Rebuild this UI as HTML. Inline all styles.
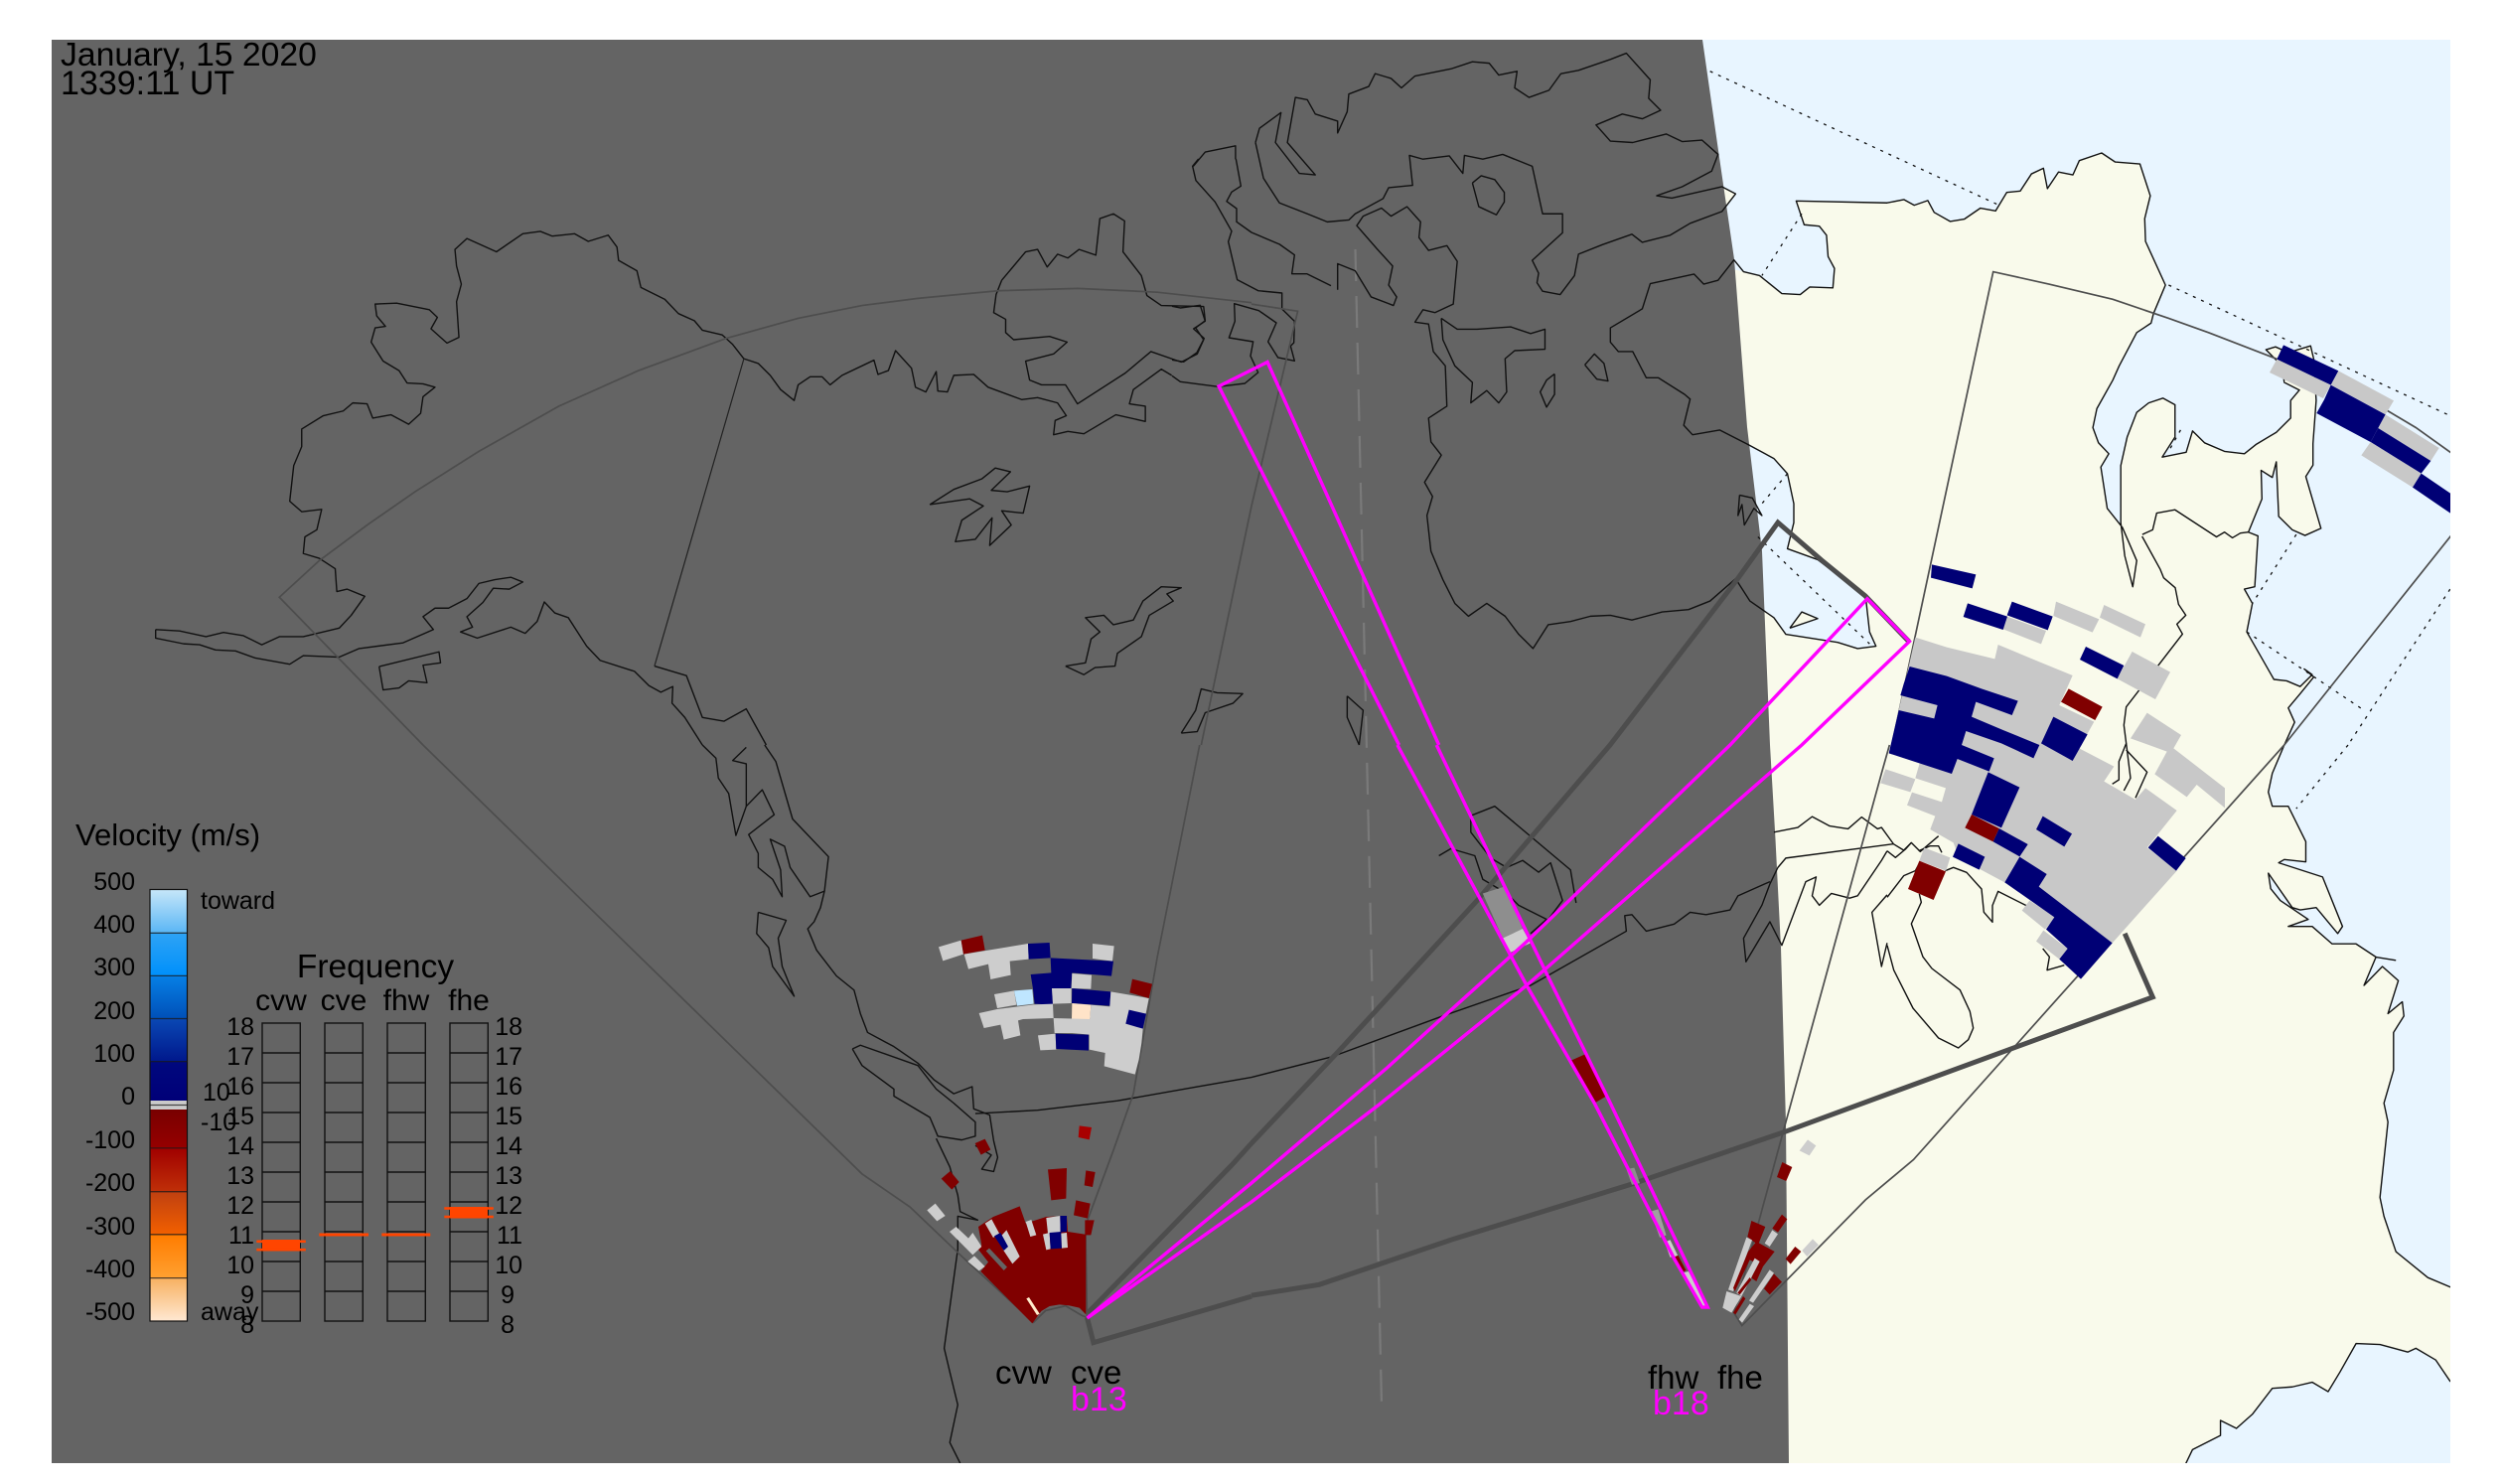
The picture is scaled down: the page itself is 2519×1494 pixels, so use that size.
<!DOCTYPE html>
<html><head><meta charset="utf-8"><style>
html,body{margin:0;padding:0;background:#fff}
svg{display:block}
text{font-family:"Liberation Sans",sans-serif;fill:#000}
.c{fill:none;stroke:#111;stroke-width:1.4;stroke-linejoin:round;vector-effect:non-scaling-stroke}
.f{fill:none;stroke:#4d4d4d;stroke-width:1.7;vector-effect:non-scaling-stroke}
.t{fill:none;stroke:#4d4d4d;stroke-width:5;stroke-linejoin:miter;vector-effect:non-scaling-stroke}
.m{fill:none;stroke:#f0f;stroke-width:3.4;stroke-linejoin:miter;vector-effect:non-scaling-stroke}
.d{fill:none;stroke:#111;stroke-width:1.3;stroke-dasharray:3 6;vector-effect:non-scaling-stroke}
.g{fill:#c8c8c8}.ga{fill:#cdcdcd}.n{fill:#000075}.r{fill:#800000}
.land{fill:#f9faeb}.sea{fill:#e8f5ff}
</style></head><body>
<svg xmlns="http://www.w3.org/2000/svg" width="2519" height="1494" viewBox="0 0 2519 1494">
<defs>
<clipPath id="mp"><rect x="52" y="40" width="2415" height="1433"/></clipPath>
<linearGradient id="b1" x1="0" y1="0" x2="0" y2="1"><stop offset="0" stop-color="#c5e6f9"/><stop offset="1" stop-color="#5ab6f5"/></linearGradient>
<linearGradient id="b2" x1="0" y1="0" x2="0" y2="1"><stop offset="0" stop-color="#2ea3f5"/><stop offset="1" stop-color="#0090fb"/></linearGradient>
<linearGradient id="b3" x1="0" y1="0" x2="0" y2="1"><stop offset="0" stop-color="#0680e6"/><stop offset="1" stop-color="#0050b8"/></linearGradient>
<linearGradient id="b4" x1="0" y1="0" x2="0" y2="1"><stop offset="0" stop-color="#0a48b4"/><stop offset="1" stop-color="#00188c"/></linearGradient>
<linearGradient id="b5" x1="0" y1="0" x2="0" y2="1"><stop offset="0" stop-color="#00087e"/><stop offset="1" stop-color="#000078"/></linearGradient>
<linearGradient id="b6" x1="0" y1="0" x2="0" y2="1"><stop offset="0" stop-color="#780000"/><stop offset="1" stop-color="#960000"/></linearGradient>
<linearGradient id="b7" x1="0" y1="0" x2="0" y2="1"><stop offset="0" stop-color="#a00000"/><stop offset="1" stop-color="#c03008"/></linearGradient>
<linearGradient id="b8" x1="0" y1="0" x2="0" y2="1"><stop offset="0" stop-color="#c04010"/><stop offset="1" stop-color="#f26000"/></linearGradient>
<linearGradient id="b9" x1="0" y1="0" x2="0" y2="1"><stop offset="0" stop-color="#ff7c00"/><stop offset="1" stop-color="#ffa030"/></linearGradient>
<linearGradient id="b10" x1="0" y1="0" x2="0" y2="1"><stop offset="0" stop-color="#f7b060"/><stop offset="1" stop-color="#ffe8d2"/></linearGradient>
</defs>
<g clip-path="url(#mp)">
<rect x="52" y="40" width="2415" height="1433" class="sea"/>
<!-- land fill -->
<g transform="matrix(.80293 0 0 .47832 1260 0)">
<polygon class="land" points="600,565 617,572 637,580 665,618 688,620 700,604 729,606 731,565 723,540 721,495 712,476 693,473 683,423 797,427 818,420 831,432 848,422 856,447 876,466 894,461 914,438 933,444 947,405 964,402 978,366 993,354 998,397 1012,362 1030,368 1038,338 1066,322 1083,341 1114,345 1127,412 1120,460 1121,508 1146,600 1131,660 1128,680 1110,700 1088,770 1080,800 1060,860 1055,900 1062,932 1075,955 1065,983 1073,1070 1092,1110 1110,1180 1105,1235 1095,1170 1090,1100 1090,980 1098,920 1110,868 1125,848 1143,838 1158,852 1158,920 1142,962 1172,952 1180,907 1195,932 1220,950 1245,955 1260,935 1285,910 1303,880 1303,843 1314,821 1295,805 1292,770 1272,736 1284,730 1300,742 1328,728 1332,756 1335,843 1331,934 1331,979 1322,1003 1341,1112 1321,1127 1305,1115 1288,1087 1285,972 1280,1005 1266,990 1267,1050 1250,1120 1262,1128 1258,1235 1245,1240 1255,1270 1248,1330 1265,1380 1282,1430 1298,1433 1315,1445 1330,1420 1320,1408 1332,1425 1315,1460 1300,1490 1308,1520 1295,1572 600,1572"/>
<polygon class="land" points="585,390 590,393 607,408 590,445 585,450"/>
<polygon class="sea" points="600,925 622,935 655,965 672,997 680,1060 680,1100 672,1155 710,1178 770,1255 775,1330 783,1360 760,1365 735,1352 670,1335 655,1300 625,1265 607,1218 600,1218"/>
<polygon class="land" points="675,1322 690,1288 710,1302"/>
</g>
<g transform="matrix(.80293 0 0 .47449 1260 750)">
<polygon class="land" points="1295,-5 1280,60 1275,100 1280,130 1300,130 1322,205 1322,248 1295,243 1288,250 1343,280 1368,385 1362,400 1335,345 1315,350 1305,345 1275,272 1278,305 1290,330 1325,370 1300,385 1330,385 1355,422 1385,422 1410,450 1395,510 1418,470 1438,500 1425,570 1443,545 1445,575 1432,610 1432,690 1420,760 1425,800 1415,960 1420,1000 1435,1075 1475,1130 1510,1155 1510,1355 1503,1350 1485,1305 1460,1280 1450,1288 1415,1272 1385,1270 1365,1330 1350,1372 1330,1352 1305,1362 1280,1365 1255,1420 1235,1450 1215,1433 1215,1465 1180,1495 1170,1530 600,1530 600,-5"/>
</g>
<!-- night -->
<polygon fill="#646464" points="52,40 1714,40 1730.5,155 1746,261 1759,430 1774,555 1782,750 1787.5,845 1793,954 1798,1130 1801,1473 52,1473"/>
<!-- dotted -->
<g transform="matrix(.80293 0 0 .47832 1260 0)">
<path class="d" d="M575,150L935,430M690,450L640,580M1150,600L1503,875M1165,905L1150,950M672,997L640,1060M635,1130L775,1355M1310,1125L1255,1270M1248,1330L1395,1495M1503,1240L1375,1568"/>
</g>
<g transform="matrix(.80293 0 0 .47449 1260 750)"><path class="d" d="M1375,0L1310,135"/></g>
<!-- dashed meridian -->
<path d="M1364.5,251L1391,1414" fill="none" stroke="#7a7a7a" stroke-width="2.2" stroke-dasharray="32 15"/>
<!-- coast z1 -->
<g transform="matrix(.80357 0 0 .47832 0 0)">
<polyline class="c" points="195,1325 225,1328 258,1340 280,1331 305,1338 328,1357 350,1340 380,1340 425,1322 440,1295 457,1255 435,1240 422,1245 420,1197 400,1175 380,1165 382,1130 397,1115 403,1072 378,1077 363,1055 368,980 378,940 378,903 405,875 430,865 442,848 460,850 467,880 490,873 512,893 527,870 530,835 545,815 530,808 510,806 500,780 480,760 465,720 470,690 483,687 472,665 470,640 497,638 538,652 548,668 540,692 560,722 575,710 572,635 578,598 572,560 570,525 585,502 622,530 655,492 677,487 692,497 720,492 737,508 762,495 773,520 775,548 798,570 803,605 833,630 850,660 870,675 880,695 905,705 918,725 932,755 950,765 965,790 978,820 995,843 1000,810 1015,793 1030,793 1040,810 1055,790 1095,758 1100,788 1113,780 1122,738 1142,775 1147,815 1160,825 1173,782 1175,823 1187,825 1195,790 1220,788 1238,815 1280,841 1300,837 1325,848 1336,875 1322,885 1320,915 1338,908 1358,913 1398,873 1435,887 1435,855 1415,850 1420,820 1455,777 1468,790"/>
<polyline class="c" points="195,1325 195,1343 230,1355 250,1357 270,1368 295,1370 320,1385 363,1398 380,1380 425,1383 450,1365 505,1353 543,1325 530,1298 545,1280 562,1280 585,1260 600,1228 620,1220 640,1215 655,1225 638,1240 618,1238 605,1268 585,1298 592,1320 577,1330 598,1343 640,1320 658,1333 673,1308 682,1267 695,1290 712,1300 735,1360 752,1390 795,1413 813,1443 828,1457 843,1445 842,1480 858,1510 880,1568"/>
<polyline class="c" points="820,1402 860,1422 880,1510 907,1518 935,1492 960,1568"/>
<polyline class="c" points="1165,1062 1195,1030 1230,1008 1247,985 1266,993 1242,1032 1262,1035 1290,1023 1282,1080 1255,1075 1267,1105 1240,1148 1243,1090 1222,1135 1197,1140 1205,1095 1232,1065 1215,1050 1165,1062"/>
<polyline class="c" points="1335,1402 1360,1395 1367,1345 1378,1330 1360,1300 1383,1295 1395,1315 1420,1305 1432,1265 1455,1235 1480,1237 1462,1250 1470,1265 1440,1295 1430,1340 1400,1375 1397,1402 1372,1405 1358,1420 1335,1402"/>
<polyline class="c" points="1480,1543 1498,1495 1505,1450 1525,1458 1557,1460 1545,1480 1510,1500 1500,1540 1480,1543"/>
<polyline class="c" points="475,1403 550,1372 552,1395 530,1400 535,1437 512,1433 500,1448 480,1452 475,1403"/>
<polyline class="c" points="1255,590 1285,530 1300,525 1312,562 1325,535 1338,543 1352,525 1373,537 1378,460 1395,450 1409,465 1407,530 1430,580 1437,622 1455,643 1508,645 1510,675 1498,690 1508,715 1500,745 1480,762 1442,740 1410,785 1350,850 1335,810 1305,810 1290,800 1285,760 1320,745 1337,720 1315,708 1270,715 1260,700 1260,672 1245,658 1248,620 1255,590"/>
<polyline class="c" points="1495,350 1510,320 1548,307 1548,335"/>
</g>
<!-- coast z11 -->
<g transform="translate(1180 160) scale(.33333)">
<polyline class="c" points="0,655 25,673 140,688 220,678 260,645 237,595 245,552 172,540 190,490 188,437 262,458 315,495 290,552 320,600 370,610 358,565 368,555 370,490 332,453 332,405 260,398 197,365 170,250 180,218 130,130 72,65 62,22 80,0"/>
<polyline class="c" points="0,445 25,450 85,442 100,490 65,513 97,542 75,585 35,613 0,607"/>
<polyline class="c" points="193,0 208,82 180,100 165,128 195,150 195,190 240,222 325,258 370,290 362,347 407,347 480,383"/>
</g>
<!-- coast z2 -->
<g transform="matrix(.80293 0 0 .47832 1260 0)">
<polyline class="c" points="108,610 108,555 130,570 150,625 178,643 182,625 172,600 177,560 158,525 132,475 140,455 163,438 175,455 195,435 212,467 210,500 222,527 245,517 258,550 253,640 230,658 215,652 205,678 222,682 228,740 243,770 245,855 222,880 225,930 238,958 217,1015 227,1045 220,1085 225,1160 240,1220 255,1270 272,1297 295,1270 318,1297 335,1335 353,1365 372,1315 400,1308 425,1297 450,1295 477,1305 515,1288 548,1283 575,1265 607,1218 625,1265 655,1300 670,1335 735,1352 760,1365 783,1360 775,1330 770,1255 710,1178 672,1155 680,1100 680,1060 672,997 655,965 622,935 587,905 553,915 542,895 550,840 543,830 510,795 495,795 478,740 460,740 450,720 450,690 490,650 500,597 555,577 567,598 585,590 605,547 617,572 637,580 665,618 688,620 700,604 729,606 731,565 723,540 721,495 712,476 693,473 683,423 797,427 818,420 831,432 848,422 856,447 876,466 894,461 914,438 933,444 947,405 964,402 978,366 993,354 998,397 1012,362 1030,368 1038,338 1066,322 1083,341 1114,345 1127,412 1120,460 1121,508 1146,600 1131,660 1128,680 1110,700 1088,770 1080,800 1060,860 1055,900 1062,932 1075,955 1065,983 1073,1070 1092,1110 1110,1180 1105,1235 1095,1170 1090,1100 1090,980 1098,920 1110,868 1125,848 1143,838 1158,852 1158,920 1142,962 1172,952 1180,907 1195,932 1220,950 1245,955 1260,935 1285,910 1303,880 1303,843 1314,821 1295,805 1292,770 1272,736 1284,730 1300,742 1328,728 1332,756 1335,843 1331,934 1331,979 1322,1003 1341,1112 1321,1127 1305,1115 1288,1087 1285,972 1280,1005 1266,990 1267,1050 1250,1120 1262,1128 1258,1235 1245,1240 1255,1270 1248,1330 1265,1380 1282,1430 1298,1433 1315,1445 1330,1420 1320,1408 1332,1425 1315,1460 1300,1490 1308,1520 1295,1568"/>
<polyline class="c" points="1117,1125 1130,1115 1135,1080 1158,1073 1210,1130 1220,1120 1230,1132 1240,1122 1250,1120"/>
<polyline class="c" points="5,300 10,270 37,237 30,300 60,365 80,368 45,300 55,205 70,210 80,240 108,255 108,280 120,235 122,198 147,182 155,155 175,165 188,185 205,160 250,145 277,130 298,133 310,158 333,150 330,185 348,205 373,190 388,155 410,148 450,125 470,112 500,168 498,207 513,232 490,250 465,240 432,263 450,297 478,300 520,282 540,298 565,295 585,325 577,360 540,393 508,412 527,417 590,393 607,408 590,445 550,470 525,495 490,510 477,493 440,515 410,535 405,580 387,620 365,613 358,595 360,575 352,548 390,490 390,450 365,450 352,350 315,325 290,335 267,327 265,365 248,328 215,335 198,327 202,390 172,395 165,418 130,450 122,463 95,467 70,450 35,427 15,375 5,300"/>
<polyline class="c" points="277,385 288,370 305,378 317,405 317,425 307,452 285,435 277,385"/>
<polyline class="c" points="238,670 258,693 283,693 325,688 350,702 368,693 368,735 330,738 318,755 320,825 310,848 295,822 275,848 277,805 255,770 240,715 238,670"/>
<polyline class="c" points="418,768 430,745 442,765 447,802 433,798 418,768"/>
<polyline class="c" points="380,787 380,830 370,857 362,825 370,800 380,787"/>
<polyline class="c" points="612,1042 628,1048 640,1085 630,1070 618,1105 615,1062 610,1085 612,1042"/>
<polyline class="c" points="675,1322 690,1288 710,1302 675,1322"/>
<polyline class="c" points="120,1465 140,1495 135,1568"/>
<polyline class="c" points="120,1465 120,1510 135,1568"/>
</g>
<!-- coast z3 -->
<g transform="matrix(.80357 0 0 .47449 0 750)">
<polyline class="c" points="880,0 897,28 900,70 913,103 922,192 935,130 955,95 970,148 938,190 950,230 950,260 968,285 980,322 978,265 965,200 983,215 990,260 1015,322 1033,310 1028,345 1020,375 1012,390 1023,435 1048,490 1070,520 1078,570 1087,610 1120,640 1150,675 1170,710 1195,740 1218,725 1220,772 1240,785 1245,840 1250,875 1245,905 1230,900 1242,870 1222,850"/>
<polyline class="c" points="935,5 918,33 935,40 935,130"/>
<polyline class="c" points="958,0 972,35 993,157 1038,237 1033,310"/>
<polyline class="c" points="950,355 985,372 975,410 980,470 995,533 968,470 963,430 948,400 950,355"/>
<polyline class="c" points="1068,645 1078,637 1150,680 1173,730 1195,760 1222,800 1222,830 1205,838 1175,830 1165,790 1120,745 1120,730 1080,680 1068,645"/>
<polyline class="c" points="1173,835 1190,895 1200,955 1203,990 1225,1008 1200,1000 1200,1070 1183,1280 1190,1330 1200,1400 1190,1480 1203,1524"/>
<polyline class="c" points="1222,782 1300,775 1400,755 1500,725 1568,705"/>
</g>
<!-- coast z4 -->
<g transform="matrix(.80293 0 0 .47449 1260 750)">
<polyline class="c" points="0,705 100,662 240,575 350,510 470,395 468,362 477,360 495,395 530,380 550,355 570,360 600,350 610,320 650,290"/>
<polyline class="c" points="275,150 305,130 400,265 407,335"/>
<polyline class="c" points="275,150 275,185 300,240 320,260 340,245 360,270 375,250 390,330 370,375"/>
<polyline class="c" points="235,235 250,220 280,235 290,285 320,315 335,340 370,370 350,400"/>
<polyline class="c" points="655,185 685,175 703,152 725,172 748,178 765,153 785,178 790,175 805,210"/>
<polyline class="c" points="797,225 790,245 760,320 750,325 727,315 712,340 703,320 708,280 695,290 665,425 650,375 620,460 617,410 640,340 650,295 660,260 670,240 805,210"/>
<polyline class="c" points="797,318 778,355 790,470 797,420"/>
<polyline class="c" points="1295,0 1280,60 1275,100 1280,130 1300,130 1322,205 1322,248 1295,243 1288,250 1343,280 1368,385 1362,400 1335,345 1315,350 1305,345 1275,272 1278,305 1290,330 1325,370 1300,385 1330,385 1355,422 1385,422 1410,450 1395,510 1418,470 1438,500 1425,570 1443,545 1445,575 1432,610 1432,690 1420,760 1425,800 1415,960 1420,1000 1435,1075 1475,1130 1510,1155"/>
<polyline class="c" points="1410,450 1435,457"/>
<polyline class="c" points="1510,1355 1503,1350 1485,1305 1460,1280 1450,1288 1415,1272 1385,1270 1365,1330 1350,1372 1330,1352 1305,1362 1280,1365 1255,1420 1235,1450 1215,1433 1215,1465 1180,1495 1170,1530"/>
</g>
<!-- coast z12 -->
<g transform="translate(1900 780) scale(.33333)">
<polyline class="c" points="0,370 50,305 85,290 100,262"/>
<polyline class="c" points="97,360 103,385 73,450 108,550 135,585 220,650 250,715 260,765 245,800 215,825 155,795 78,705 20,590 0,515"/>
<polyline class="c" points="175,290 200,280 240,295 285,345 292,415 318,445 318,395 335,352 420,395"/>
<polyline class="c" points="0,230 25,250 55,225 73,205 100,232 155,185"/>
<polyline class="c" points="19,209 50,228 73,205"/>
<polyline class="c" points="95,230 130,215 155,215 165,235"/>
<polyline class="c" points="470,525 490,550 483,590 535,575"/>
</g>
<!-- coast z8 -->
<g transform="translate(1860 540) scale(.33333)">
<polyline class="c" points="890,0 945,100 955,125 990,155 1000,205 1022,238 995,265 1012,295 842,515 835,570 842,625 820,680 820,735 800,748"/>
<polyline class="c" points="842,625 855,730 835,768"/>
<polyline class="c" points="842,645 905,712 870,790"/>
</g>
<!-- FOV thin 1 -->
<g transform="matrix(.80357 0 0 .47832 0 0)">
<polyline class="f" points="530,1568 350,1257 400,1180 460,1105 520,1035 600,950 700,855 800,780 910,712 1000,670 1080,643 1150,628 1250,612 1350,607 1450,615 1568,637"/>
<polyline class="f" points="932,755 820,1402" style="stroke:#222;stroke-width:1.2"/>
<polyline class="f" points="1568,1065 1505,1568"/>
</g>
<g transform="matrix(.80293 0 0 .47832 1260 0)"><polyline class="f" points="0,640 58,655 0,1065"/></g>
<g transform="matrix(.80357 0 0 .47449 0 750)">
<polyline class="f" points="530,0 1080,910 1140,980 1205,1085 1295,1225 1310,1200 1335,1190 1355,1210 1362,1215 1360,1020 1395,860 1420,740 1450,450 1503,0"/>
</g>
<!-- FOV thin 2 -->
<g transform="matrix(.80293 0 0 .47832 1260 0)">
<polyline class="f" points="803,1568 930,572 1000,598 1080,630 1150,670 1200,700 1285,755 1340,795 1400,840 1460,900 1510,960"/>
<polyline class="f" points="1510,1115 1295,1568"/>
</g>
<g transform="matrix(.80293 0 0 .47449 1260 750)">
<polyline class="f" points="800,0 790,60 670,800 605,1205 615,1232 770,965 830,880 1295,0"/>
</g>
<!-- thick FOV -->
<polyline class="t" points="1095,1322 1240,1173 1260,1151 1348,1058 1485,909 1621,750 1750,582 1790,526 1834,564 1878,600 1922,646"/>
<g transform="matrix(.80357 0 0 .47449 0 750)">
<polyline class="t" points="1362,1215 1370,1268 1568,1170"/>
</g>
<g transform="matrix(.80293 0 0 .47449 1260 750)">
<polyline class="t" points="1095,400 1130,535 960,640 670,820 480,930 250,1050 85,1145 0,1168"/>
</g>
<!-- data in magenta b18 -->
<g transform="matrix(.80293 0 0 .47449 1260 750)">
<polygon fill="#8e8e8e" points="290,315 318,300 340,390 315,410"/>
<polygon class="ga" points="315,410 340,390 350,420 325,440"/>
<polygon class="r" points="400,670 420,655 445,745 430,760"/>
<polygon fill="#8e8e8e" points="470,900 480,897 487,930 477,933"/>
<polygon fill="#a0a0a0" points="500,990 510,985 520,1040 512,1045"/>
<polygon class="ga" points="518,1055 525,1050 535,1085 525,1087"/>
<polygon class="r" points="528,1087 535,1083 545,1115 538,1120"/>
<polygon class="ga" points="540,1120 548,1117 570,1190 565,1193"/>
</g>
<!-- magenta b13 / b18 -->
<polygon class="m" points="1094.5,1327 1260,1191 1396.5,1075 1537,948 1741.8,750 1880,602.7 1922.4,645.7 1814,750 1537,992 1388.5,1112 1260,1210"/>
<g transform="matrix(.80293 0 0 .47449 1260 750)">
<polyline class="m" points="183,0 345,510 430,760 530,1090 565,1193 572,1193 512,980 450,760 370,485 232,0"/>
</g>
<g transform="matrix(.80293 0 0 .47832 1260 0)">
<polyline class="m" points="235,1568 20,762 -41,813 185,1568"/>
</g>
<!-- cvw/cve fan -->
<g transform="translate(920 1100) scale(.33333)">
<polygon class="r" points="358,697 202,540 225,512 192,470 205,460 195,405 240,375 320,343 338,395 400,375 460,372 517,385 545,385 535,430 520,430 520,670 500,650 470,643 440,640 410,645 385,660"/>
<polygon fill="#646464" points="228,470 282,527 272,537 218,478"/>
<polygon fill="#646464" points="462,372 517,383 517,428 465,420"/>
<polygon class="ga" points="65,335 95,372 70,388 40,355"/>
<polygon class="ga" points="128,405 165,440 178,423 205,465 178,490 108,420"/>
<polygon class="ga" points="183,493 215,525 197,538 163,510"/>
<polygon class="ga" points="215,395 235,382 258,425 240,438"/>
<polygon class="ga" points="280,415 320,495 298,517 270,475 262,435"/>
<polygon class="n" points="243,433 262,423 285,465 272,477"/>
<polygon class="ga" points="338,390 355,384 370,430 352,435"/>
<polygon class="ga" points="400,378 442,372 443,422 405,425"/>
<polygon class="n" points="442,372 462,372 462,420 443,422"/>
<polygon class="ga" points="390,428 410,423 413,472 400,475"/>
<polygon class="n" points="410,423 445,420 447,470 413,472"/>
<polygon class="ga" points="445,425 462,423 465,468 447,470"/>
<polygon fill="#ffeccc" points="340,622 348,618 380,668 372,672"/>
<polygon fill="#a80000" points="500,100 537,105 530,142 497,135"/>
<polygon class="r" points="185,153 215,140 232,172 203,188"/>
<polygon class="r" points="83,260 110,237 137,270 115,293"/>
<polygon class="r" points="405,232 462,228 460,320 415,325"/>
<polygon class="r" points="520,235 548,240 540,285 515,280"/>
<polygon class="r" points="490,325 533,335 525,380 483,370"/>
</g>
<!-- cve far cluster -->
<g transform="translate(920 920) scale(.33333)">
<polygon class="ga" points="75,100 143,80 150,122 88,142"/>
<polygon class="r" points="143,80 207,65 215,110 150,122"/>
<polygon class="ga" points="152,122 345,90 347,137 290,143 293,185 232,198 225,152 165,167"/>
<polygon class="n" points="345,90 410,87 413,133 347,137"/>
<polygon class="ga" points="540,90 605,97 600,143 540,135"/>
<polygon class="n" points="413,133 603,143 597,188 478,178 475,225 417,225 420,275 365,272 360,227 353,183 415,178"/>
<polygon class="ga" points="478,180 537,185 535,227 476,225"/>
<polygon class="ga" points="243,243 303,232 310,275 252,285"/>
<polygon fill="#bfe6ff" points="303,232 358,228 362,272 312,278"/>
<polygon class="ga" points="417,225 476,225 476,270 420,272"/>
<polygon class="n" points="478,225 595,235 592,278 477,270"/>
<polygon class="ga" points="197,300 252,288 362,274 420,272 422,315 330,318 315,322 322,367 272,380 262,335 212,345"/>
<polygon fill="#ffe3c8" points="478,270 535,275 532,318 477,318"/>
<polygon class="ga" points="595,235 710,255 692,345 688,390 680,440 668,485 575,460 578,420 530,410 530,365 478,360 425,360 422,315 532,318 535,275 592,280"/>
<polygon class="n" points="650,290 702,302 692,347 640,332"/>
<polygon class="r" points="660,197 720,212 710,255 652,238"/>
<polygon class="ga" points="375,367 428,362 430,410 382,412"/>
<polygon class="n" points="428,362 528,365 528,413 430,408"/>
</g>
<!-- fhe close cluster -->
<g transform="translate(1700 1120) scale(.33333)">
<polygon class="ga" points="360,82 385,100 365,130 335,115"/>
<polygon class="r" points="283,150 313,165 295,207 267,195"/>
<polygon class="r" points="190,327 232,345 210,400 178,375"/>
<polygon class="r" points="282,308 298,322 270,362 253,350"/>
<polygon class="ga" points="253,355 270,367 245,405 230,395"/>
<polygon class="ga" points="175,377 192,385 135,540 120,535"/>
<polygon class="r" points="205,390 260,420 225,465 205,510 190,500 205,455 185,445 140,540 135,530 180,420"/>
<polygon class="ga" points="200,440 215,450 160,555 145,545"/>
<polygon class="ga" points="115,540 160,555 130,605 103,590"/>
<polygon class="r" points="185,498 190,505 155,550 148,545"/>
<polygon class="r" points="165,555 172,562 142,610 135,605"/>
<polygon class="ga" points="245,475 258,485 195,575 183,568"/>
<polygon class="ga" points="185,578 198,585 162,635 152,625"/>
<polygon class="r" points="258,487 282,512 245,550 228,532"/>
<polygon class="r" points="322,405 340,420 308,458 293,442"/>
<polygon class="ga" points="375,382 393,400 358,435 343,417"/>
</g>
<!-- main far cluster -->
<g transform="translate(1860 540) scale(.33333)">
<polygon class="g" points="205,305 300,335 445,370 455,327 570,375 680,420 640,510 745,560 700,640 805,695 775,740 870,795 900,760 995,828 905,940 995,1010 800,1228 475,1045 400,1005 335,965 320,925 250,885 265,845 180,812 195,773 285,802 297,760 205,730 218,685 125,655"/>
<polygon class="g" points="630,197 760,250 740,290 622,240"/>
<polygon class="g" points="775,207 900,265 885,305 762,245"/>
<polygon class="g" points="470,280 482,242 600,285 585,325"/>
<polygon class="g" points="860,348 975,410 930,492 815,430"/>
<polygon class="g" points="905,533 1008,600 985,640 1140,760 1140,820 1055,750 1025,787 928,718 965,650 855,610"/>
<polygon class="g" points="115,703 205,733 190,772 100,745"/>
<polygon class="g" points="550,1100 628,1150 597,1187 527,1130"/>
<polygon class="g" points="592,1190 665,1245 640,1277 570,1223"/>
<polygon class="g" points="232,940 310,970 298,1010 217,980"/>
<polygon class="n" points="255,85 388,115 377,157 252,125"/>
<polygon class="n" points="363,202 483,242 470,282 350,243"/>
<polygon class="n" points="497,197 620,242 605,283 482,238"/>
<polygon class="n" points="720,333 835,390 815,430 702,372"/>
<polygon class="n" points="188,393 300,422 405,460 515,497 497,540 388,500 375,545 470,585 580,630 562,670 465,625 358,588 345,630 443,670 428,710 332,672 315,717 125,655 155,525 262,550 272,510 160,480 170,445"/>
<polygon class="n" points="622,545 725,598 680,678 585,625"/>
<polygon class="n" points="425,712 520,758 465,880 375,840"/>
<polygon class="n" points="458,882 545,930 520,967 440,922"/>
<polygon class="n" points="590,845 678,898 655,937 570,885"/>
<polygon class="n" points="335,928 415,968 398,1007 318,968"/>
<polygon class="n" points="520,968 602,1020 578,1058 800,1228 705,1337 640,1277 665,1245 600,1187 625,1150 475,1045"/>
<polygon class="n" points="938,905 1022,972 993,1010 908,940"/>
<polygon class="r" points="668,460 770,515 748,555 645,500"/>
<polygon class="r" points="375,840 458,882 440,922 355,880"/>
<polygon class="r" points="217,980 297,1012 260,1098 183,1065"/>
</g>
<!-- top right cells -->
<g transform="translate(2260 320) scale(.33333)">
<polygon class="n" points="117,82 283,160 260,203 97,125"/>
<polygon class="g" points="97,125 260,203 237,243 75,165"/>
<polygon class="g" points="283,160 450,250 425,292 260,203"/>
<polygon class="n" points="260,203 425,292 403,333 380,375 217,288 240,247"/>
<polygon class="g" points="425,292 587,393 562,432 403,333"/>
<polygon class="n" points="403,333 562,432 533,470 380,375"/>
<polygon class="g" points="380,375 533,470 507,512 352,415"/>
<polygon class="n" points="533,470 640,543 640,603 507,512"/>
</g>
</g>
<!-- title -->
<text x="61" y="66" font-size="33.7">January, 15 2020</text>
<text x="61" y="95" font-size="34">1339:11 UT</text>
<!-- colorbar -->
<text x="76" y="851" font-size="31">Velocity (m/s)</text>
<rect x="151" y="896" width="37.5" height="43.3" fill="url(#b1)"/>
<rect x="151" y="939" width="37.5" height="43.3" fill="url(#b2)"/>
<rect x="151" y="982" width="37.5" height="43.5" fill="url(#b3)"/>
<rect x="151" y="1025.5" width="37.5" height="43" fill="url(#b4)"/>
<rect x="151" y="1068.5" width="37.5" height="39.5" fill="url(#b5)"/>
<rect x="151" y="1108" width="37.5" height="9" fill="#cacaca"/>
<rect x="151" y="1117" width="37.5" height="39" fill="url(#b6)"/>
<rect x="151" y="1156" width="37.5" height="44" fill="url(#b7)"/>
<rect x="151" y="1200" width="37.5" height="43" fill="url(#b8)"/>
<rect x="151" y="1243" width="37.5" height="43.5" fill="url(#b9)"/>
<rect x="151" y="1286.5" width="37.5" height="43.5" fill="url(#b10)"/>
<rect x="151" y="895.5" width="37.5" height="434.5" fill="none" stroke="#111" stroke-width="1.2"/>
<path d="M151,939.3H188.5M151,982.4H188.5M151,1025.5H188.5M151,1068.6H188.5M151,1112.5H188.5M151,1155.9H188.5M151,1199.7H188.5M151,1242.8H188.5M151,1286.6H188.5" stroke="#1a1a1a" stroke-opacity=".75" stroke-width="1.3" fill="none"/>
<g font-size="25" text-anchor="end">
<text x="136" y="896">500</text><text x="136" y="939">400</text><text x="136" y="982">300</text><text x="136" y="1026">200</text><text x="136" y="1069">100</text><text x="136" y="1112">0</text><text x="136" y="1156">-100</text><text x="136" y="1199">-200</text><text x="136" y="1243">-300</text><text x="136" y="1286">-400</text><text x="136" y="1329">-500</text>
</g>
<g font-size="25">
<text x="202" y="915">toward</text><text x="202" y="1329">away</text><text x="204" y="1108">10</text><text x="202" y="1138">-10</text>
</g>
<text x="378" y="984" font-size="33.5" text-anchor="middle">Frequency</text>
<g font-size="30" text-anchor="middle">
<text x="283" y="1017">cvw</text><text x="346" y="1017">cve</text><text x="409" y="1017">fhw</text><text x="472" y="1017">fhe</text>
</g>
<g fill="none" stroke="#111" stroke-width="1.4">
<rect x="264" y="1030" width="38.3" height="300"/><rect x="327" y="1030" width="38.3" height="300"/><rect x="390" y="1030" width="38.3" height="300"/><rect x="453" y="1030" width="38.3" height="300"/>
<path d="M264,1060H302M264,1090H302M264,1120H302M264,1150H302M264,1180H302M264,1210H302M264,1240H302M264,1270H302M264,1300H302"/>
<path d="M327,1060H365M327,1090H365M327,1120H365M327,1150H365M327,1180H365M327,1210H365M327,1240H365M327,1270H365M327,1300H365"/>
<path d="M390,1060H428M390,1090H428M390,1120H428M390,1150H428M390,1180H428M390,1210H428M390,1240H428M390,1270H428M390,1300H428"/>
<path d="M453,1060H491M453,1090H491M453,1120H491M453,1150H491M453,1180H491M453,1210H491M453,1240H491M453,1270H491M453,1300H491"/>
</g>
<g fill="#ff4500">
<rect x="264" y="1248" width="38" height="11.5"/><rect x="258.3" y="1248.5" width="49.5" height="2.6"/><rect x="258.3" y="1256.8" width="49.5" height="2.6"/>
<rect x="321.3" y="1241.5" width="49.7" height="3"/><rect x="384.3" y="1241.5" width="49" height="3"/>
<rect x="453" y="1215" width="38" height="11.5"/><rect x="447.3" y="1215.2" width="49.5" height="2.6"/><rect x="447.3" y="1223.7" width="49.5" height="2.6"/>
</g>
<g font-size="25" text-anchor="end">
<text x="256" y="1042">18</text><text x="256" y="1072">17</text><text x="256" y="1102">16</text><text x="256" y="1132">15</text><text x="256" y="1162">14</text><text x="256" y="1192">13</text><text x="256" y="1222">12</text><text x="256" y="1252">11</text><text x="256" y="1282">10</text><text x="256" y="1312">9</text><text x="256" y="1342">8</text>
<text x="526" y="1042">18</text><text x="526" y="1072">17</text><text x="526" y="1102">16</text><text x="526" y="1132">15</text><text x="526" y="1162">14</text><text x="526" y="1192">13</text><text x="526" y="1222">12</text><text x="526" y="1252">11</text><text x="526" y="1282">10</text><text x="518" y="1312">9</text><text x="518" y="1342">8</text>
</g>
<g font-size="33">
<text x="1002" y="1393">cvw</text><text x="1078" y="1393">cve</text><text x="1659" y="1398">fhw</text><text x="1729" y="1398">fhe</text>
<text x="1078" y="1420" style="fill:#f0f;font-size:34px">b13</text><text x="1664" y="1424" style="fill:#f0f;font-size:34px">b18</text>
</g>
</svg>
</body></html>
